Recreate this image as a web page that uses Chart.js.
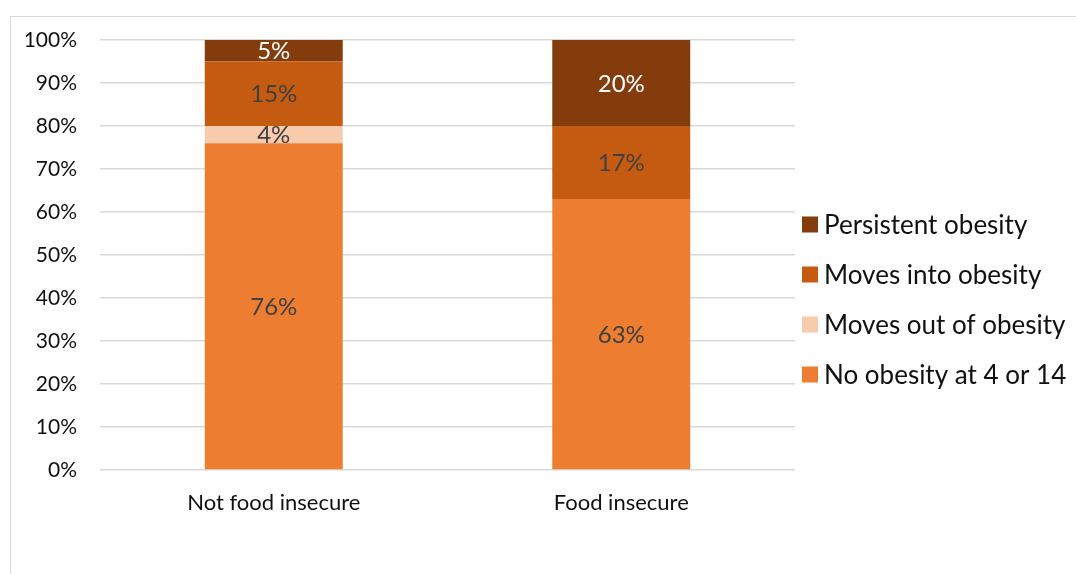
<!DOCTYPE html>
<html lang="en">
<head>
  <meta charset="UTF-8" />
  <title>Obesity transitions by food insecurity</title>
  <style>
    *{box-sizing:border-box}
    html,body{margin:0;width:1076px;height:574px;overflow:hidden;background:#fff;font-family:'Lato',sans-serif}
    .frame{position:absolute;left:10px;top:16px;width:1200px;height:700px;border:1.5px solid #d9d9d9}
    .wrap{position:absolute;left:0;top:0;width:1076px;height:574px}
  </style>
</head>
<body>
  <div class="frame"></div>
  <div class="wrap"><canvas id="chart"></canvas></div>

  <script src="https://cdn.jsdelivr.net/npm/chart.js"></script>
  <script>
  const categories = ['Not food insecure', 'Food insecure'];
  const seriesNames = ['No obesity at 4 or 14', 'Moves out of obesity', 'Moves into obesity', 'Persistent obesity'];
  const noObesity = [76, 63];
  const movesOut = [4, 0];
  const movesInto = [15, 17];
  const persistent = [5, 20];
  const yMax = 100, yStep = 10;

  const colors = ['#ED7D31', '#F8CBAD', '#C55A11', '#843C0C'];
  const labelColors = ['#404040', '#404040', '#404040', '#ffffff'];
  const FONT = "'Lato', sans-serif";

  // value labels centred in each stacked segment
  const segmentLabels = {
    id: 'segmentLabels',
    afterDatasetsDraw(chart) {
      const ctx = chart.ctx;
      ctx.save();
      ctx.font = `24px ${FONT}`;
      ctx.textAlign = 'center';
      ctx.textBaseline = 'middle';
      chart.data.datasets.forEach((ds, i) => {
        chart.getDatasetMeta(i).data.forEach((bar, j) => {
          const v = ds.data[j];
          if (!v) return;
          const { x, y, base } = bar.getProps(['x', 'y', 'base'], true);
          ctx.fillStyle = labelColors[i];
          ctx.fillText(v + '%', x, (y + base) / 2 + 1);
        });
      });
      ctx.restore();
    }
  };

  // legend on the right, top series first
  const sideLegend = {
    id: 'sideLegend',
    afterDraw(chart) {
      const ctx = chart.ctx;
      const x = chart.chartArea.right + 7;
      ctx.save();
      ctx.font = `26px ${FONT}`;
      ctx.textAlign = 'left';
      ctx.textBaseline = 'middle';
      const items = chart.data.datasets.map((ds, i) => ({ label: ds.label, color: colors[i] })).reverse();
      items.forEach((it, k) => {
        const cy = 224.5 + k * 50;
        ctx.fillStyle = it.color;
        ctx.fillRect(x, cy - 8, 16, 16);
        ctx.fillStyle = '#111';
        ctx.fillText(it.label, x + 22, cy + 1);
      });
      ctx.restore();
    }
  };

  const seriesData = [noObesity, movesOut, movesInto, persistent];

  new Chart(document.getElementById('chart'), {
    type: 'bar',
    data: {
      labels: categories,
      datasets: seriesData.map((d, i) => ({
        label: seriesNames[i],
        data: d,
        backgroundColor: colors[i],
        borderWidth: 0,
        categoryPercentage: 1,
        barPercentage: 0.397
      }))
    },
    options: {
      responsive: true,
      maintainAspectRatio: false,
      animation: false,
      layout: { padding: { top: 40, right: 281, bottom: 0, left: 0 } },
      plugins: { legend: { display: false }, tooltip: { enabled: false } },
      scales: {
        x: {
          stacked: true,
          grid: { display: false },
          border: { display: false },
          ticks: { color: '#111', font: { family: FONT, size: 22 }, padding: 12, maxRotation: 0 },
          afterFit: s => { s.height = 104; }
        },
        y: {
          stacked: true,
          min: 0,
          max: yMax,
          grid: { color: '#d9d9d9', lineWidth: 1.5, drawTicks: false },
          border: { display: false },
          ticks: { stepSize: yStep, color: '#111', font: { family: FONT, size: 21 }, padding: 23, callback: v => v + '%' },
          afterFit: s => { s.width = 100; }
        }
      }
    },
    plugins: [segmentLabels, sideLegend]
  });
  </script>
</body>
</html>
